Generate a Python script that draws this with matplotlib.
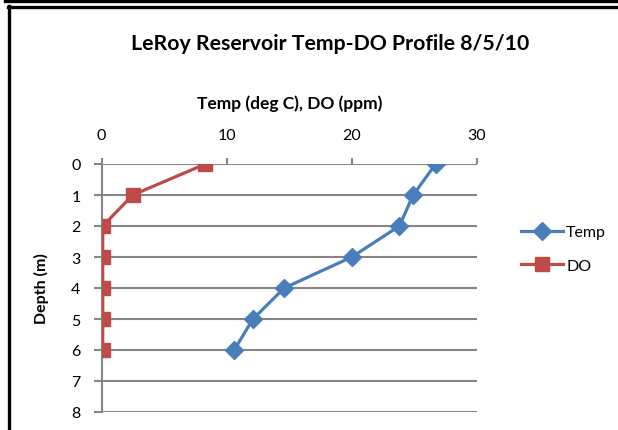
import numpy as np
import matplotlib.pyplot as plt
from matplotlib.lines import Line2D

# depth profile data
depth = [0, 1, 2, 3, 4, 5, 6]
temp = [26.7, 24.9, 23.8, 20.0, 14.6, 12.1, 10.6]
do_ppm = [8.3, 2.5, 0.1, 0.1, 0.1, 0.1, 0.1]

x_ticks = [0, 10, 20, 30]
y_ticks = [0, 1, 2, 3, 4, 5, 6, 7, 8]

blue = '#4A7EBB'
red = '#BE4B48'
grid_gray = '#868686'

plt.rcParams['font.family'] = ['Lato', 'DejaVu Sans']

fig = plt.figure(figsize=(6.18, 4.31), dpi=100)
W, H = 618, 431

# outer frame lines (chart border, cropped)
fig.add_artist(Line2D([5 / W, 1], [1 - 1.5 / H, 1 - 1.5 / H], color='black', lw=2.4))
fig.add_artist(Line2D([7.5 / W, 1], [1 - 7.5 / H, 1 - 7.5 / H], color='black', lw=2.4))
fig.add_artist(Line2D([8.5 / W, 8.5 / W], [0, 1 - 6.5 / H], color='black', lw=2.4))

ax = fig.add_axes([101.5 / W, 1 - 413 / H, 375.5 / W, 248 / H])

ax.plot(temp, depth, color=blue, lw=2.3, marker='D', markersize=9,
        markeredgecolor=blue, label='Temp', zorder=3)
ax.plot(do_ppm, depth, color=red, lw=2.3, marker='s', markersize=10,
        markeredgecolor=red, label='DO', zorder=4)

ax.set_xlim(0, 30)
ax.set_ylim(8, 0)
ax.set_xticks(x_ticks)
ax.set_yticks(y_ticks)
ax.xaxis.tick_top()
ax.xaxis.set_label_position('top')

for s in ['right', 'bottom', 'top']:
    ax.spines[s].set_visible(False)
ax.spines['left'].set_color(grid_gray)
ax.spines['left'].set_linewidth(1.5)

ax.yaxis.grid(True, color=grid_gray, lw=1.5)
ax.set_axisbelow(True)
ax.tick_params(axis='y', length=6, width=1.5, color=grid_gray, labelsize=11.5, pad=9)
ax.tick_params(axis='x', length=4, width=1.5, color=grid_gray, labelsize=11.5, pad=12)

ax.set_xlabel('Temp (deg C), DO (ppm)', fontsize=12.5, fontweight='bold', labelpad=14)
ax.set_ylabel('Depth (m)', fontsize=11.5, fontweight='bold', labelpad=16)

fig.text(330 / W, 1 - 44 / H, 'LeRoy Reservoir Temp-DO Profile 8/5/10',
         ha='center', va='center', fontsize=15.3, fontweight='bold')

ax.legend(loc='center left', bbox_to_anchor=(1.08, 0.657), frameon=False,
          fontsize=11.5, handlelength=2.6, handletextpad=0.2, labelspacing=1.2)

fig.savefig('out.png', dpi=100)
